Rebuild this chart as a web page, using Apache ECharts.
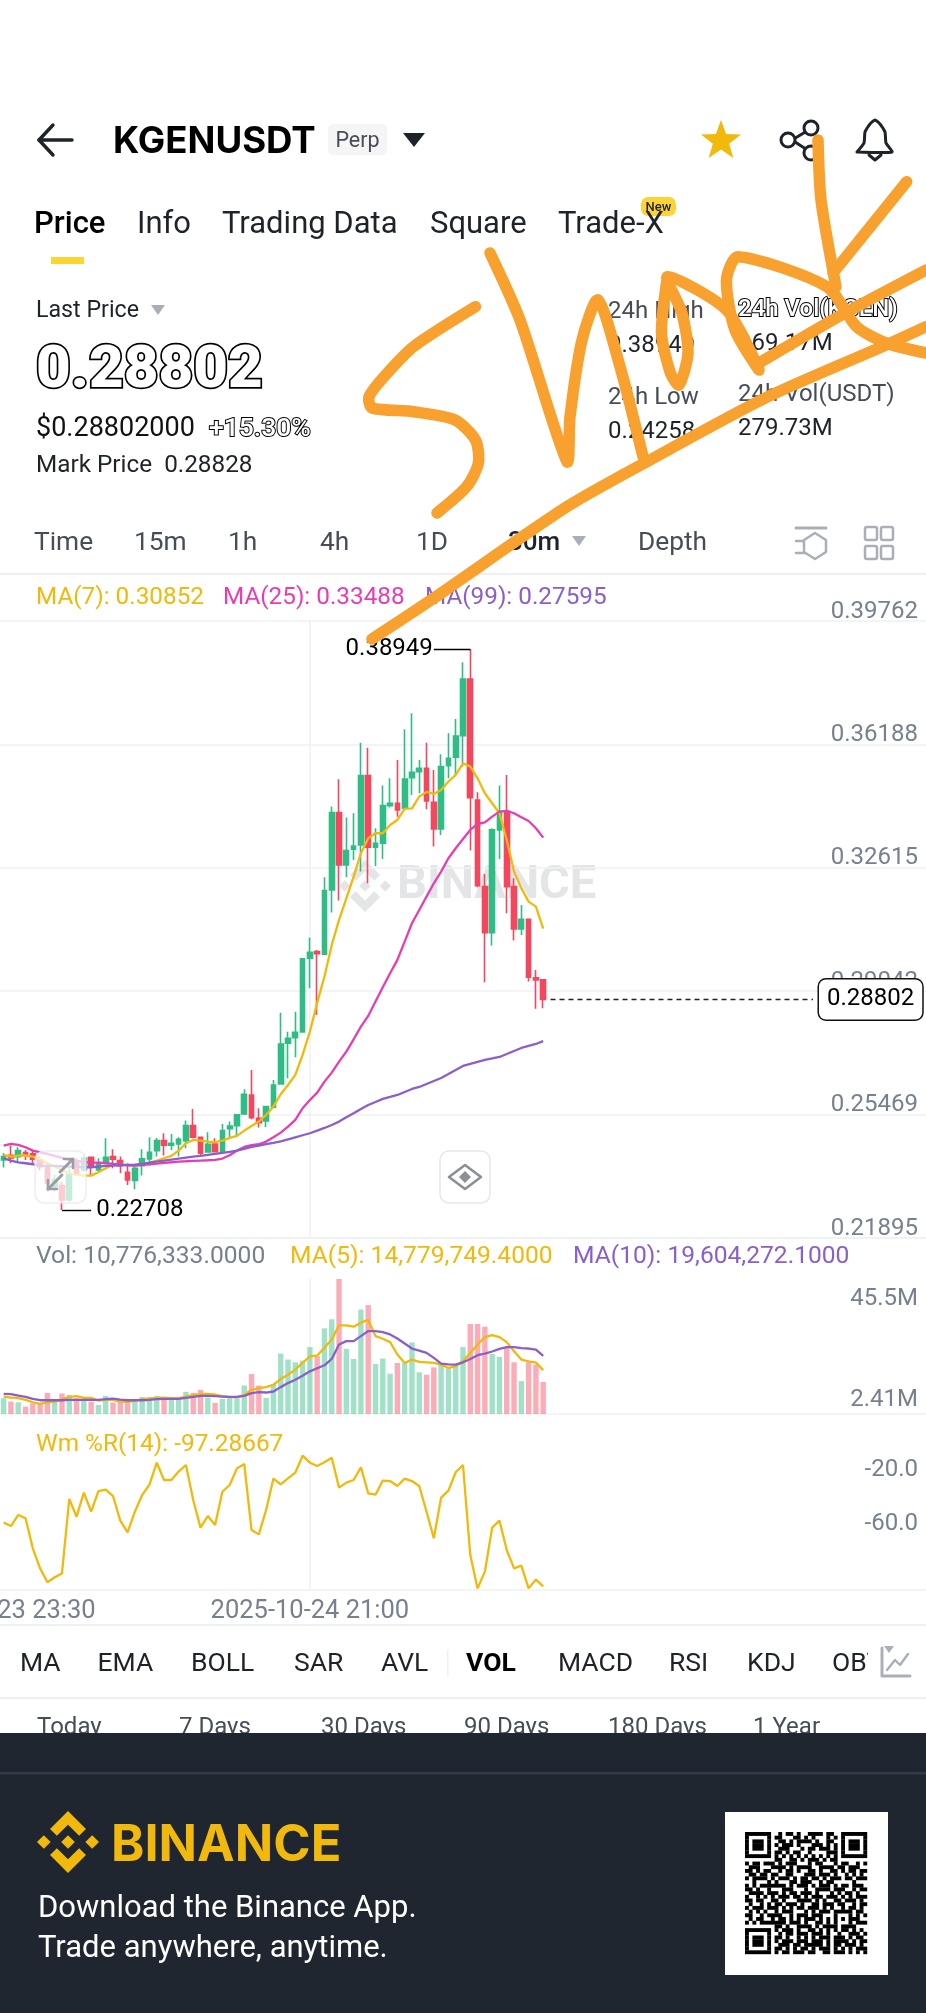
<!DOCTYPE html>
<html><head><meta charset="utf-8">
<style>html,body{margin:0;padding:0;background:#fff}#c{width:926px;height:2013px}</style>
<script src="https://cdn.jsdelivr.net/npm/echarts@6/dist/echarts.min.js"></script>
</head><body><div id="c"></div>
<script>
const priceTicks=[0.39762,0.36188,0.32615,0.29042,0.25469,0.21895];
const volTicks=[2.41,45.5];
const wrTicks=[-20,-60];
const lastPrice=0.28802;
const opens=[.24156,.24291,.24252,.24368,.24330,.24156,.23963,.23384,.23413,.23000,.24108,.23866,.24233,.23866,.24088,.24252,.24137,.23799,.23558,.23992,.24185,.24426,.24716,.24581,.24619,.24716,.25150,.24812,.24388,.24619,.24397,.25063,.25150,.25488,.26038,.25362,.25285,.25681,.26356,.27533,.27698,.27860,.29996,.30189,.30112,.31974,.34213,.32698,.33152,.33277,.35284,.33210,.33325,.34416,.34484,.34339,.35227,.35400,.35497,.34513,.33741,.35574,.35815,.36442,.38083,.34580,.32071,.30739,.33712,.34242,.32071,.30846,.31125,.29427,.29369];
const closes=[.24252,.24214,.24426,.24291,.24175,.23963,.23481,.23577,.23000,.23722,.23770,.24204,.23992,.24060,.24233,.24175,.23992,.23577,.23915,.24185,.24378,.24716,.24581,.24638,.24754,.25150,.24812,.24349,.24610,.24397,.25005,.25140,.25459,.26057,.25381,.25237,.25700,.26327,.27514,.27678,.27852,.29977,.30170,.30131,.31955,.34213,.32698,.33113,.33248,.35284,.33210,.33325,.34416,.34484,.34290,.35188,.35381,.35497,.34551,.33741,.35545,.35786,.36433,.38083,.34648,.32100,.30739,.33712,.34242,.32071,.30846,.31125,.29446,.29369,.28802];
const lows=[.23934,.24060,.24108,.24156,.24060,.23866,.23239,.23239,.22708,.22950,.23722,.23818,.23722,.23818,.24060,.23915,.23770,.23432,.23307,.23702,.23992,.24252,.24281,.24446,.24252,.24494,.24783,.24301,.24378,.24378,.24397,.24783,.24880,.25459,.25333,.25092,.25111,.25652,.26347,.26520,.27128,.27844,.29128,.28356,.30093,.31318,.31666,.32341,.32843,.32505,.32167,.32669,.32872,.34358,.34097,.34290,.34725,.34773,.34310,.33229,.33567,.35207,.35304,.35545,.33113,.32052,.29301,.30363,.32872,.31299,.30508,.30672,.29320,.28530,.28549];
const highs=[.24349,.24571,.24523,.24446,.24446,.24253,.24060,.23722,.23529,.23915,.24204,.24281,.24252,.24204,.24783,.24465,.24252,.24060,.23963,.24465,.24812,.24793,.24928,.24909,.24812,.25295,.25632,.24812,.24957,.24783,.25198,.25266,.25488,.26202,.26761,.25652,.25719,.26472,.28421,.27871,.28450,.29996,.30595,.30237,.32341,.34387,.35178,.34069,.34194,.36240,.36095,.33760,.34995,.35207,.35738,.36626,.37089,.35738,.36240,.35449,.35902,.36510,.36925,.38565,.38949,.34802,.32438,.33760,.34995,.35304,.32312,.31540,.31125,.29658,.29369];
const ma7=[.24301,.24252,.24281,.24291,.24252,.24175,.24060,.23963,.23866,.23770,.23722,.23702,.23702,.23799,.23915,.24011,.24011,.24011,.23992,.24011,.24079,.24137,.24204,.24272,.24426,.24638,.24735,.24716,.24687,.24668,.24716,.24793,.24851,.25005,.25140,.25266,.25459,.25700,.26057,.26327,.26617,.27196,.27871,.28703,.29466,.30382,.31106,.31733,.32361,.33036,.33470,.33615,.33615,.33856,.34001,.34320,.34339,.34676,.34812,.34754,.34870,.35111,.35304,.35642,.35545,.35207,.34773,.34484,.34194,.33422,.32505,.32023,.31637,.31492,.30852];
const ma25=[.24571,.24619,.24590,.24523,.24426,.24378,.24330,.24272,.24214,.24156,.24127,.24098,.24079,.24079,.24060,.24040,.24021,.24002,.23992,.24011,.24031,.24050,.24069,.24088,.24108,.24117,.24127,.24137,.24146,.24156,.24195,.24291,.24426,.24532,.24581,.24610,.24687,.24812,.24947,.25121,.25314,.25652,.25893,.26105,.26424,.26684,.27003,.27292,.27649,.28016,.28325,.28742,.29157,.29562,.29948,.30479,.31010,.31395,.31782,.32167,.32505,.32891,.33181,.33451,.33712,.33885,.33933,.34097,.34242,.34262,.34194,.34078,.33972,.33760,.33488];
const ma99=[.24204,.24137,.24088,.24060,.24031,.23992,.23982,.23982,.23973,.23963,.23963,.23944,.23944,.23963,.23982,.23992,.24002,.24011,.24021,.24040,.24079,.24108,.24137,.24166,.24195,.24224,.24252,.24272,.24301,.24330,.24359,.24388,.24426,.24474,.24532,.24571,.24610,.24648,.24696,.24754,.24812,.24870,.24928,.25005,.25082,.25169,.25266,.25391,.25507,.25632,.25748,.25835,.25922,.25979,.26037,.26124,.26211,.26269,.26356,.26443,.26530,.26645,.26761,.26877,.26935,.26993,.27051,.27094,.27138,.27224,.27311,.27398,.27456,.27514,.27595];
const volumes=[5.32,4.19,3.96,2.49,3.62,3.40,7.13,4.19,6.91,6.45,5.32,4.75,4.19,3.06,6.11,3.85,4.19,4.53,4.19,5.77,5.77,6.11,5.32,4.98,4.98,7.47,7.13,8.15,5.55,3.74,5.09,5.32,5.32,9.62,13.47,9.62,5.43,10.07,20.38,18.34,17.43,18.0,22.53,19.47,28.87,31.92,45.5,21.96,18.56,35.2,36.68,16.87,18.68,13.58,17.21,17.21,24.11,14.04,13.24,15.73,16.87,15.28,16.64,22.53,30.34,30.34,29.43,20.26,19.24,22.53,17.43,11.09,17.43,16.64,10.776];
const volMa5=[5.89,5.55,5.32,4.75,3.96,3.40,3.96,4.19,4.98,5.66,6.0,5.43,5.43,4.53,4.75,4.75,4.19,4.08,4.41,4.98,5.21,5.43,5.55,5.32,5.32,5.89,6.34,6.79,6.79,6.57,6.0,5.66,5.66,6.45,8.15,8.72,9.06,9.85,11.77,13.24,14.94,17.2,19.47,19.7,22.3,25.13,29.88,29.88,29.43,30.79,31.7,26.26,25.36,24.22,20.04,17.21,18.34,17.55,17.43,17.21,16.64,15.51,16.07,17.77,20.6,23.43,25.92,26.6,25.92,24.22,21.17,18.34,17.77,17.32,14.78];
const volMa10=[6.79,6.68,6.23,5.77,5.09,4.64,4.64,4.64,4.64,4.75,4.75,4.75,4.75,4.75,4.98,5.21,4.87,4.64,4.64,4.64,4.75,4.98,5.09,5.09,5.09,5.43,5.77,6.11,6.11,6.0,5.89,5.77,5.77,6.11,7.02,7.36,7.24,7.58,9.06,10.41,11.55,12.9,14.38,15.4,16.41,18.56,23.43,24.56,24.56,26.26,27.96,27.96,27.62,26.83,25.47,23.77,22.07,21.39,20.6,18.9,16.98,16.75,16.64,17.43,18.56,19.81,20.38,21.06,21.96,22.53,22.53,22.19,22.07,21.73,19.60];
const wr=[-50.1,-52.6,-44.4,-46.9,-69.1,-84.0,-94.3,-90.6,-87.7,-32.6,-45.7,-27.9,-42.0,-26.7,-25.7,-30.4,-48.6,-57.3,-42.0,-29.6,-22.0,-5.7,-18.5,-18.5,-12.3,-7.4,-33.3,-53.8,-45.2,-51.9,-27.2,-22.2,-9.9,-6.7,-55.6,-58.8,-40.7,-17.5,-21.7,-17.3,-13.1,-0.5,-5.7,-8.1,-5.4,-2.0,-24.2,-20.5,-18.5,-9.1,-28.4,-29.4,-19.0,-19.3,-23.0,-17.5,-19.3,-23.0,-42.0,-61.7,-31.6,-26.4,-12.8,-7.4,-74.1,-98.8,-86.4,-53.8,-48.6,-70.4,-84.0,-82.0,-98.8,-92.3,-97.29];
const slots=128;

const GREEN='#2EBD85',RED='#F6465D',YEL='#F0B90B',PINK='#E63DB2',PUR='#8A5FCB',GRID='#EFF0F2',GREY='#76808F',DARK='#1E2329';
const FONT='Roboto, sans-serif';
const pad2=n=>String(n).padStart(2,'0');
const times=[];(function(){const base=Date.UTC(2025,9,23,23,30);for(let i=0;i<slots;i++){const d=new Date(base+i*1800000);times.push(`${d.getUTCFullYear()}-${pad2(d.getUTCMonth()+1)}-${pad2(d.getUTCDate())} ${pad2(d.getUTCHours())}:${pad2(d.getUTCMinutes())}`);}})();
const pad=a=>[null].concat(a);
const candle=[['-','-','-','-']].concat(opens.map((o,i)=>[o,closes[i],lows[i],highs[i]]));
const volBars=[null].concat(volumes.map((v,i)=>({value:v,itemStyle:{color:closes[i]>=opens[i]?GREEN:RED,opacity:.45}})));
const tailIdx=[];for(let i=76;i<=112;i++)tailIdx.push([i,lastPrice]);

const bandW=926/127, gridW=bandW*slots, gridL=-bandW;
const grid=(top,height)=>({left:gridL,width:gridW,top,height,containLabel:false,outerBoundsMode:'none'});
const xBase=(gi,show)=>({type:'category',gridIndex:gi,data:times,boundaryGap:true,
  axisTick:{show:false},axisLine:{show:true,onZero:false,lineStyle:{color:GRID,width:1.5}},
  axisLabel:show?{show:true,color:GREY,fontFamily:FONT,fontSize:25.5,margin:9,interval:(i)=>i===0||i===43,hideOverlap:false,showMinLabel:true}:{show:false},
  splitLine:{show:true,alignWithLabel:true,interval:(i)=>i===43,lineStyle:{color:GRID,width:1.5}}});
const yLabel=(vals,fmt)=>({show:true,inside:true,customValues:vals,verticalAlign:'bottom',color:GREY,fontFamily:FONT,fontSize:24,margin:8,formatter:fmt});

const line=(name,data,color,xi,yi,w)=>({name,type:'line',xAxisIndex:xi,yAxisIndex:yi,data:pad(data),showSymbol:false,symbol:'none',smooth:false,connectNulls:false,lineStyle:{color,width:w||2.3},z:5,silent:true,animation:false});

// ---------- page furniture (text and icons)
const g=[];
const T=(x,y,text,size,color,o)=>{o=o||{};g.push({type:'text',x,y:y+5.5,z:o.z||50,style:{text,fill:color||DARK,font:`${o.weight||400} ${size}px ${o.family||FONT}`,textAlign:o.align||'left',textVerticalAlign:'middle',textBaseline:'middle',stroke:o.stroke,lineWidth:o.lw||0}});};
const R=(x,y,w,h,fill,o)=>{o=o||{};g.push({type:'rect',z:o.z||40,shape:{x,y,width:w,height:h,r:o.r||0},style:{fill,stroke:o.stroke,lineWidth:o.lw||0,opacity:o.op==null?1:o.op}});};
const PL=(pts,color,w,o)=>{o=o||{};g.push({type:'polyline',z:o.z||50,shape:{points:pts,smooth:o.smooth||0},style:{stroke:color,lineWidth:w,lineCap:'round',lineJoin:'round',fill:null,opacity:o.op==null?1:o.op}});};
const PG=(pts,fill,o)=>{o=o||{};g.push({type:'polygon',z:o.z||50,shape:{points:pts},style:{fill,opacity:o.op==null?1:o.op}});};
const C=(x,y,r,stroke,w,o)=>{o=o||{};g.push({type:'circle',z:o.z||50,shape:{cx:x,cy:y,r},style:{fill:o.fill||'#fff',stroke,lineWidth:w}});};
const logo=(cx,cy,r,fill,o)=>{const sets=[[[0,-1],[.58,-.42],[.36,-.2],[0,-.56],[-.36,-.2],[-.58,-.42]],[[0,1],[.58,.42],[.36,.2],[0,.56],[-.36,.2],[-.58,.42]],[[-1,0],[-.78,-.22],[-.56,0],[-.78,.22]],[[1,0],[.78,-.22],[.56,0],[.78,.22]],[[-.22,0],[0,-.22],[.22,0],[0,.22]]];
  sets.forEach(s=>PG(s.map(p=>[cx+p[0]*r,cy+p[1]*r]),fill,o));};

// header
PL([[72,140],[39,140]],DARK,3.4);PL([[53,125],[39,140],[53,155]],DARK,3.4);
T(113,136,'KGENUSDT',36.6,'#000',{weight:700,family:'Inter, sans-serif'});
R(328,124,59,31,'#F5F5F5',{r:5});T(357.5,136,'Perp',21.5,'#474D57',{align:'center'});
PG([[403,133],[425,133],[414,147]],DARK);
(function(){const pts=[];for(let i=0;i<10;i++){const a=-Math.PI/2+i*Math.PI/5,r=i%2?8.6:21;pts.push([721+r*Math.cos(a),141+r*Math.sin(a)]);}PG(pts,YEL);})();
PL([[792,140],[812,128]],DARK,3);PL([[792,140],[812,153]],DARK,3);C(788,140,7,DARK,3);C(811,128,7,DARK,3);C(811,153,7,DARK,3);
PL([[857,152],[864,143],[865,132],[870,124],[875,120],[880,124],[885,132],[886,143],[892,152],[857,152]],DARK,3,{smooth:.15});
PL([[869,155],[875,160],[881,155]],DARK,3);
// tabs
[['Price',34,500],['Info',137,400],['Trading Data',222,400],['Square',430,400],['Trade-X',558,400]].forEach(a=>T(a[1],220,a[0],31,a[0]==='Price'?'#000':DARK,{weight:a[2]}));
R(641,197,35,19,'#FCD535',{r:7});T(658.5,202,'New',13,DARK,{align:'center',weight:500});
R(51,257,33,7,'#FCD535');
// summary
T(36,306,'Last Price',23.2,DARK);PG([[151,305],[165,305],[158,315]],'#A9AFB8');
T(36,366,'0.28802',60,'#fff',{weight:900,stroke:'#000',lw:3.4});
T(36,424,'$0.28802000',27,'#111');
T(209,424,'+15.30%',26.5,'#fff',{weight:500,stroke:'#000',lw:2});
T(36,460,'Mark Price  0.28828',24.3,DARK);
T(608,306,'24h High',24,'#474D57');T(608,340,'0.38949',24,DARK);T(608,392,'24h Low',24,'#474D57');T(608,426,'0.24258',24,DARK);
T(738,304,'24h Vol(KGEN)',24,'#fff',{weight:500,stroke:'#000',lw:2});T(738,338,'969.17M',24,DARK);
T(738,389,'24h Vol(USDT)',24,'#474D57');T(738,423,'279.73M',24,DARK);
// timeframe row
[['Time',34],['15m',134],['1h',228],['4h',320],['1D',416],['Depth',638]].forEach(a=>T(a[1],538,a[0],26.3,'#474D57'));
T(508,538,'30m',26,DARK,{weight:500});PG([[572,536],[586,536],[579,546]],'#A9AFB8');
PL([[796,528],[826,528]],'#A9AFB8',3);PL([[796,541],[808,541]],'#A9AFB8',2.5);PL([[796,553],[808,553]],'#A9AFB8',2.5);PG([[815,533],[826,540],[826,552],[815,559],[804,552],[804,540]],'#fff');PL([[815,533],[826,540],[826,552],[815,559],[804,552],[804,540],[815,533]],'#A9AFB8',2.5);
[[865,527],[881,527],[865,546],[881,546]].forEach(p=>R(p[0],p[1],12,13,'#fff',{r:2,stroke:'#A9AFB8',lw:2.5}));
R(0,573,926,2,'#EFF0F2');
// legends
T(36,592,'MA(7): 0.30852',24.3,YEL);T(223,592,'MA(25): 0.33488',24.3,PINK);T(425,592,'MA(99): 0.27595',24.3,PUR);
T(36,1251,'Vol: 10,776,333.0000',24.6,GREY);T(290,1251,'MA(5): 14,779,749.4000',24.6,YEL);T(573,1251,'MA(10): 19,604,272.1000',24.6,PUR);
T(36,1439,'Wm %R(14): -97.28667',24.4,YEL);
// watermark (under the series)
logo(365,886,26,'#E4E5E7',{z:-1});T(397,881,'BINANCE',47,'#E4E5E7',{weight:700,z:-1});
// on-chart buttons
R(35,1151,51,52,'#fff',{r:9,op:.72,stroke:'#E6E8EA',lw:1.5,z:30});
PL([[48,1189],[62,1175]],'#9A9FA6',3,{z:31});PL([[48,1180],[48,1189],[57,1189]],'#9A9FA6',2.6,{z:31});
PL([[60,1172],[73,1159]],'#9A9FA6',3,{z:31});PL([[64,1159],[73,1159],[73,1168]],'#9A9FA6',2.6,{z:31});
R(440,1151,50,52,'#fff',{r:9,stroke:'#E6E8EA',lw:1.5,z:30});
PL([[449,1177],[465,1165],[481,1177],[465,1189],[449,1177]],'#8A9099',2.6,{z:31});PG([[465,1171],[471,1177],[465,1183],[459,1177]],'#8A9099',{z:31});
// separators & indicator row
R(0,1624,926,2,'#EFF0F2');R(0,1697,926,2,'#EFF0F2');
[['MA',20],['EMA',97.5],['BOLL',191],['SAR',294],['AVL',381],['MACD',558],['RSI',669],['KDJ',747],['OBV',832]].forEach(a=>T(a[1],1659,a[0],26.5,DARK));
T(466,1659,'VOL',26.5,'#000',{weight:700});R(447,1650,1.5,26,'#EFF0F2');
R(868,1640,58,50,'#fff',{z:55});
PL([[882,1648],[882,1676],[910,1676]],'#A9AFB8',3,{z:56});PL([[887,1670],[895,1660],[900,1665],[908,1654]],'#A9AFB8',2.4,{z:56});PG([[884,1646],[894,1646],[889,1653]],'#A9AFB8',{z:56});
[['Today',37],['7 Days',179],['30 Days',321],['90 Days',464],['180 Days',608],['1 Year',753]].forEach(a=>T(a[1],1722,a[0],24,'#474D57'));
// footer
R(0,1733,926,280,'#1F2630',{z:60});R(0,1772,926,2.5,'#343B46',{z:61});
logo(68,1842,31,YEL,{z:62});
T(111,1840,'BINANCE',50.5,YEL,{weight:700,z:62,family:'Inter, sans-serif'});
T(38,1904,'Download the Binance App.',31,'#fff',{z:62});T(38,1944,'Trade anywhere, anytime.',31,'#fff',{z:62});
R(725,1812,163,163,'#fff',{z:62});
const qrRows=[
'#######..#.##.#..####.##..#######',
'#.....#.##...##.#.#...#.#.#.....#',
'#.###.#..##.#.####.#..##..#.###.#',
'#.###.#.#.###.#...###.#.#.#.###.#',
'#.###.#..###...#.##.###.#.#.###.#',
'#.....#.##.#.##..#....###.#.....#',
'#######.#.#.#.#.#.#.#.#.#.#######',
'........##..##.#.###.#.##........',
'#.##.###.#.###...#.##...#.##..#.#',
'.###...####.#.####..####.##.###..',
'##.#.##..#.##.#..##.#..##.#.##.##',
'.##.##.##..##...###.###.#..#.#.#.',
'#.####.#.###.#.##.##.#.###.##.###',
'..#...#.#...##.###..#.##.....#...',
'#.#.#######.#.###.#.###.#.##.###.',
'##.#..#...###...#..####.###..#.##',
'.####.###.#.##.###.#...#.#.##.#..',
'#..#.#.#.###.##.#.###.###.#.#.###',
'##.##..##.#...####.#.#..##.###.#.',
'.#..#.#.##.###.#..##.###.##..#.##',
'#.###.###.#.#.##.###.#.#..#.##.#.',
'.#.#.#..#.###...#.#.###.#####.##.',
'##..#.####..#.###.###...#...#.#.#',
'.#.##..#.##.#.#.###.#.#.#.#.###..',
'#.#.#######.###.#..##.#.#...#.###',
'........##.#..####.#.####.####...',
'#######.#.###.#..##.#.#.#.##.#.#.',
'#.....#..#.##.###.###.#..#..###.#',
'#.###.#.##.#..#.#.#.###.###.#.##.',
'#.###.#.#.###.###.###.#.####.#.##',
'#.###.#..###.##.#####.#.##.###.#.',
'#.....#.##.#.#.##.#.###.#.#.#.###',
'#######.#.##.###.##..##.###.#.#.#'];
(function(){const s=122/33,ox=745,oy=1832;qrRows.forEach((row,r)=>{let c=0;while(c<row.length){if(row[c]==='#'){let e=c;while(row[e+1]==='#')e++;g.push({type:'rect',z:63,shape:{x:ox+c*s,y:oy+r*s,width:(e-c+1)*s+.2,height:s+.2},style:{fill:'#000'}});c=e+1;}else c++;}});})();
// orange handwriting over everything on the page top
const INK='#F9A12E';
[
 [[475.5,306.7],[413.5,346.7],[384,376.7],[369,396.7],[372,408],[413.5,411.7],[455,420],[475.5,440],[478.4,463],[466.6,486.7],[437,513]],
 [[490,253],[520,320],[567,461.7],[570,416.7],[582,340],[598,300],[620,366.7],[643,456.7]],
 [[667.5,276.7],[661.5,333],[670.4,373],[679,385],[688,353],[682,313],[667.5,276.7],[726.5,310],[759,370],[735,330],[726.5,280],[738,256.7],[827,286.7],[856.5,326.7],[886,343],[926,353]],
 [[818,140],[821,200],[836,286.7]],
 [[759,363],[845,313],[926,270]],
 [[906.7,181.7],[833,273]],
 [[926,326.7],[886,345],[768,396.7],[650,460],[567,506.7],[431,600],[372,639]]
].forEach(p=>PL(p,INK,11.5,{z:90,smooth:.25}));

const option={
  animation:false,backgroundColor:'#fff',
  grid:[grid(621,617),grid(1279,135),grid(1455,135)],
  xAxis:[xBase(0,false),xBase(1,false),xBase(2,true)],
  yAxis:[
    {type:'value',gridIndex:0,position:'right',min:0.21895,max:0.39762,scale:true,axisLine:{show:false},axisTick:{show:false,customValues:priceTicks},axisLabel:Object.assign(yLabel(priceTicks,v=>v.toFixed(5)),{lineHeight:19}),splitLine:{show:true,lineStyle:{color:GRID,width:1.5}}},
    {type:'value',gridIndex:1,position:'right',min:0,max:45.5,axisLine:{show:false},axisTick:{show:false,customValues:volTicks},splitLine:{show:false},
      axisLabel:Object.assign(yLabel(volTicks,v=>v>10?`{a|${v.toFixed(1)}M}`:`{b|${v.toFixed(2)}M}`),{verticalAlign:'middle',rich:{a:{color:GREY,fontFamily:FONT,fontSize:24,padding:[40,0,0,0]},b:{color:GREY,fontFamily:FONT,fontSize:24,padding:[0,0,14,0]}}})},
    {type:'value',gridIndex:2,position:'right',min:-100,max:0,axisLine:{show:false},axisTick:{show:false,customValues:wrTicks},splitLine:{show:false},axisLabel:yLabel(wrTicks,v=>v.toFixed(1))}
  ],
  series:[
    {name:'KGENUSDT',type:'candlestick',xAxisIndex:0,yAxisIndex:0,data:candle,barWidth:5.2,z:3,
     itemStyle:{color:GREEN,color0:RED,borderColor:GREEN,borderColor0:RED,borderWidth:1.6},
     markLine:{silent:true,symbol:'none',animation:false,lineStyle:{color:'#000',width:1.4,type:'solid'},
       label:{show:true,position:'end',color:'#000',fontFamily:FONT,fontSize:24,distance:1,formatter:p=>p.name},
       data:[[{coord:[65,0.38949],name:'0.38949'},{coord:[60,0.38949]}],[{coord:[9,0.22708],name:'0.22708',label:{distance:5}},{coord:[13,0.22708]}]]}},
    line('MA(7)',ma7,YEL,0,0),line('MA(25)',ma25,PINK,0,0),line('MA(99)',ma99,PUR,0,0),
    {name:'Last',type:'line',xAxisIndex:0,yAxisIndex:0,data:tailIdx,showSymbol:false,symbol:'none',silent:true,z:6,lineStyle:{color:'#222',width:1.5,type:[5,4]},
     endLabel:{show:true,formatter:()=>lastPrice.toFixed(5),color:'#000',fontFamily:FONT,fontSize:24,backgroundColor:'#fff',borderColor:'#111',borderWidth:1.5,borderRadius:7,padding:[8,8,8,8],distance:6}},
    {name:'Vol',type:'bar',xAxisIndex:1,yAxisIndex:1,data:volBars,barWidth:5.4,silent:true,z:2},
    line('MA(5)',volMa5,YEL,1,1),line('MA(10)',volMa10,PUR,1,1),
    line('Wm %R(14)',wr,YEL,2,2)
  ],
  graphic:{elements:g}
};
const chart=echarts.init(document.getElementById('c'),null,{renderer:'canvas',width:926,height:2013});
chart.setOption(option);
</script></body></html>
